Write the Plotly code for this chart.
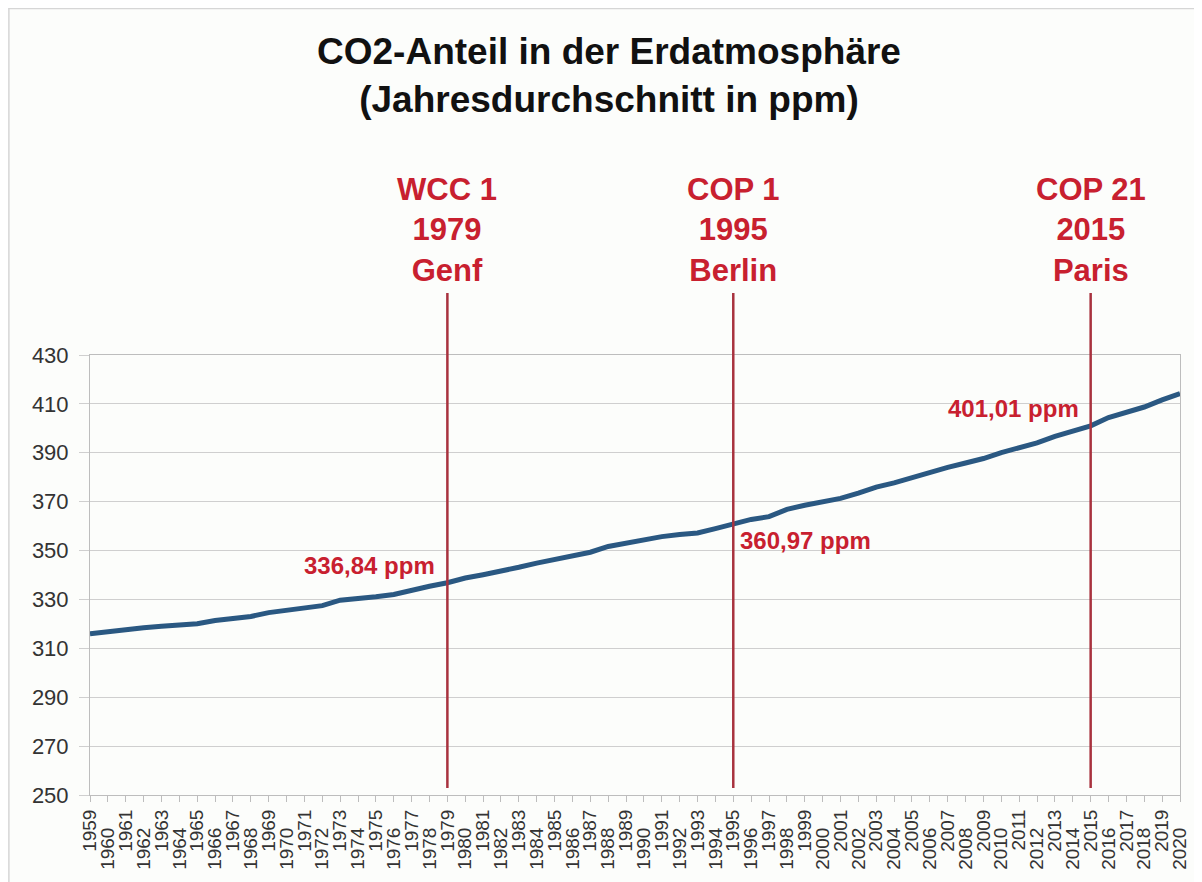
import plotly.graph_objects as go

years = list(range(1959, 2021))
co2 = [315.98, 316.91, 317.64, 318.45, 318.99, 319.62, 320.04, 321.37, 322.18, 323.05,
       324.62, 325.68, 326.32, 327.46, 329.68, 330.19, 331.13, 332.03, 333.84, 335.41,
       336.84, 338.76, 340.12, 341.48, 343.15, 344.87, 346.35, 347.61, 349.31, 351.69,
       353.20, 354.45, 355.70, 356.54, 357.21, 358.96, 360.97, 362.74, 363.88, 366.84,
       368.54, 369.71, 371.32, 373.45, 375.98, 377.70, 379.98, 382.09, 384.02, 385.83,
       387.64, 390.10, 391.85, 394.06, 396.74, 398.81, 401.01, 404.41, 406.76, 408.72,
       411.66, 414.24]

event_years = [1979, 1995, 2015]
event_labels = ["WCC 1<br>1979<br>Genf", "COP 1<br>1995<br>Berlin", "COP 21<br>2015<br>Paris"]
value_labels = ["336,84 ppm", "360,97 ppm", "401,01 ppm"]
value_sides = ["left", "right", "left"]  # which side of the event line the label sits on
value_vpos = ["above", "below", "above"]

y_ticks = list(range(250, 431, 20))
odd_years = [y for y in years if (y - 1959) % 2 == 0]
even_years = [y for y in years if (y - 1959) % 2 == 1]

FONT = "Liberation Sans, Arial, sans-serif"
RED_TXT = "#c8202f"
RED_LINE = "#a8323e"
BLUE = "#2a5882"
GRID = "#cfcfcf"
BG = "#fcfdfb"

W, H = 1194, 874
ML, MR, MT, MB = 82, 17, 347, 87
PW, PH = W - ML - MR, H - MT - MB

fig = go.Figure()
fig.add_trace(go.Scatter(x=years, y=co2, mode="lines",
                         line=dict(color=BLUE, width=5),
                         showlegend=False, hoverinfo="x+y"))
# invisible helper trace so the staggered (even-year) label axis gets drawn
fig.add_trace(go.Scatter(x=years, y=co2, mode="lines", xaxis="x2", yaxis="y",
                         line=dict(width=0), opacity=0,
                         showlegend=False, hoverinfo="skip"))

shapes = []
annotations = []
co2_by_year = dict(zip(years, co2))
for yr, lab, vlab, side, vpos in zip(event_years, event_labels, value_labels, value_sides, value_vpos):
    shapes.append(dict(type="line", xref="x", yref="paper", x0=yr, x1=yr,
                       y0=0.016, y1=1.141, line=dict(color=RED_LINE, width=2.5)))
    annotations.append(dict(x=yr, xref="x", y=1.285, yref="paper", text="<b>" + lab + "</b>",
                            showarrow=False, xanchor="center", yanchor="middle",
                            font=dict(family=FONT, size=31, color=RED_TXT)))
    annotations.append(dict(x=yr, xref="x", y=co2_by_year[yr], yref="y", text="<b>" + vlab + "</b>",
                            showarrow=False,
                            xanchor="right" if side == "left" else "left",
                            xshift=-10 if side == "left" else 5,
                            yanchor="bottom" if vpos == "above" else "top",
                            yshift=2 if vpos == "above" else -1,
                            font=dict(family=FONT, size=24, color=RED_TXT)))

# outer light frame (top and left edges of the figure)
shapes.append(dict(type="line", xref="paper", yref="paper",
                   x0=-ML / PW, x1=(W - ML) / PW, y0=1 + (MT - 0.5) / PH, y1=1 + (MT - 0.5) / PH,
                   line=dict(color="#d6d6d6", width=1.5)))
shapes.append(dict(type="line", xref="paper", yref="paper",
                   x0=-(ML - 0.5) / PW, x1=-(ML - 0.5) / PW, y0=1 + MT / PH, y1=-MB / PH,
                   line=dict(color="#d6d6d6", width=1.5)))

fig.update_layout(
    width=W, height=H, autosize=False,
    margin=dict(l=ML, r=MR, t=MT, b=MB),
    paper_bgcolor=BG, plot_bgcolor=BG,
    font=dict(family=FONT, color="#222222"),
    title=dict(text="<b>CO2-Anteil in der Erdatmosphäre<br>(Jahresdurchschnitt in ppm)</b>",
               xref="container", x=601 / W, xanchor="center",
               yref="container", y=1 - 56 / H, yanchor="middle",
               font=dict(family=FONT, size=37, color="#111111")),
    xaxis=dict(type="linear", range=[1959, 2020], tickmode="array",
               tickvals=odd_years, ticktext=[str(y) for y in odd_years],
               tickangle=-90, ticks="outside", ticklen=6, tickcolor="#bdbdbd",
               showgrid=False, showline=True, linecolor="#bdbdbd", mirror=True,
               zeroline=False, tickfont=dict(family=FONT, size=19, color="#333333")),
    xaxis2=dict(type="linear", overlaying="x", matches="x", anchor="y", side="bottom",
                tickmode="array", tickvals=even_years, ticktext=[str(y) for y in even_years],
                tickangle=-90, ticks="outside", ticklen=6, tickcolor="#bdbdbd",
                ticklabelstandoff=18,
                showgrid=False, showline=False, zeroline=False,
                tickfont=dict(family=FONT, size=19, color="#333333")),
    yaxis=dict(range=[250, 430], tickmode="array", tickvals=y_ticks,
               ticks="outside", ticklen=10, tickcolor=GRID,
               showgrid=True, gridcolor=GRID, gridwidth=1,
               showline=True, linecolor="#bdbdbd", mirror=True, zeroline=False,
               ticklabelstandoff=6,
               tickfont=dict(family=FONT, size=22, color="#333333")),
    shapes=shapes, annotations=annotations,
    hovermode="closest",
)

fig.write_html("out.html")
